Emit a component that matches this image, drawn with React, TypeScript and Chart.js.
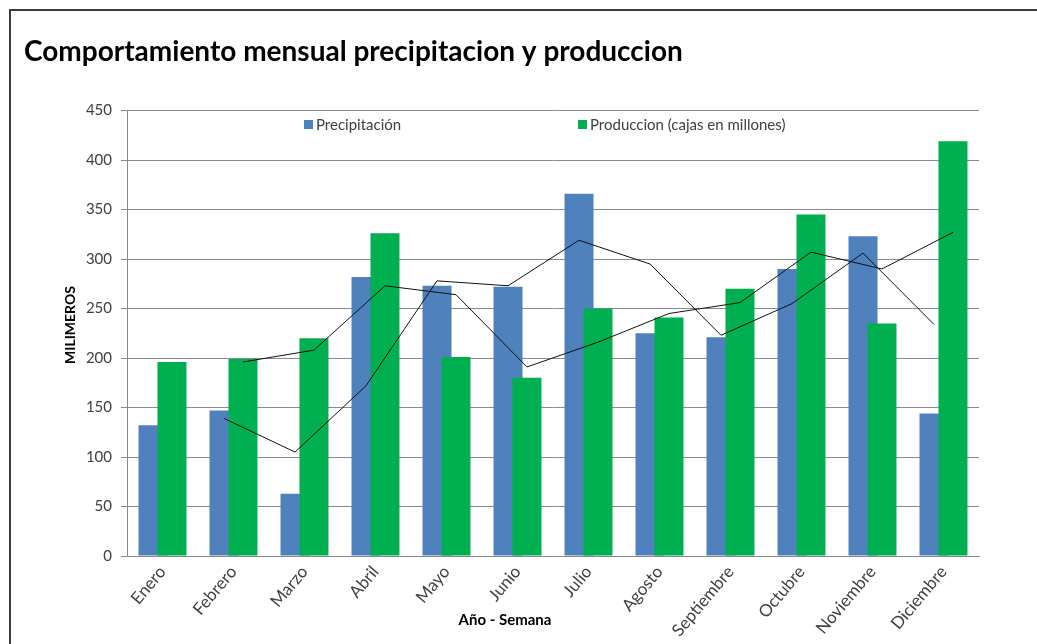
import React, { useEffect, useRef } from 'react';
import { Chart, registerables } from 'chart.js';

Chart.register(...registerables);

const MONTHS = ['Enero', 'Febrero', 'Marzo', 'Abril', 'Mayo', 'Junio', 'Julio', 'Agosto', 'Septiembre', 'Octubre', 'Noviembre', 'Diciembre'];
const PRECIPITACION = [132, 147, 63, 282, 273, 272, 366, 225, 221, 290, 323, 144];
const PRODUCCION = [196, 199, 220, 326, 201, 180, 250, 241, 270, 345, 235, 419];
const TENDENCIA_PRECIPITACION = [null, 139, 105, 172, 278, 273, 319, 295, 223, 255, 306, 234];
const TENDENCIA_PRODUCCION = [null, 196, 208, 273, 264, 191, 216, 245, 256, 307, 290, 327];
const Y_MIN = 0;
const Y_MAX = 450;
const Y_STEP = 50;

const TITLE = 'Comportamiento mensual precipitacion y produccion';
const Y_TITLE = 'MILIMEROS';
const X_TITLE = 'Año - Semana';
const LABEL_PRECIP = 'Precipitación';
const LABEL_PROD = 'Produccion (cajas en millones)';

const BLUE = '#4F81BD';
const GREEN = '#00B050';
const GRID = '#8a8a8a';
const TEXT = '#404040';
const FONT = 'Lato, "Open Sans", sans-serif';

// Each series sits a little left/right of its month; bars overlap (green in front).
const SLOT_SHIFT = 0.1335;
const BAR_PERCENTAGE = 1.53;

const toPoints = (values: (number | null)[], shift: number) =>
  values.map((v, i) => ({ x: i + shift, y: v }));

const overlays = {
  id: 'overlays',
  afterDraw(chart: any) {
    const ctx = chart.ctx;
    const spots = [
      { index: 0, x: 304 },
      { index: 1, x: 578 },
    ];
    ctx.save();
    ctx.font = `15px ${FONT}`;
    ctx.textBaseline = 'middle';
    ctx.textAlign = 'left';
    for (const s of spots) {
      const ds = chart.data.datasets[s.index];
      ctx.fillStyle = ds.backgroundColor;
      ctx.fillRect(s.x, 120, 9, 9);
      ctx.fillStyle = TEXT;
      ctx.fillText(ds.label, s.x + 12, 125);
    }
    // axis titles
    ctx.font = `bold 15px ${FONT}`;
    ctx.fillStyle = '#000';
    ctx.textAlign = 'center';
    ctx.fillText(X_TITLE, 505, 620);
    ctx.save();
    ctx.translate(70, 325);
    ctx.rotate(-Math.PI / 2);
    ctx.font = `bold 14px ${FONT}`;
    ctx.fillText(Y_TITLE, 0, 0);
    ctx.restore();
    ctx.restore();
  },
};

export default function App() {
  const ref = useRef<HTMLCanvasElement | null>(null);

  useEffect(() => {
    if (!ref.current) return;
    const chart = new Chart(ref.current, {
      type: 'bar',
      data: {
        datasets: [
          {
            type: 'bar',
            label: LABEL_PRECIP,
            data: toPoints(PRECIPITACION, -SLOT_SHIFT),
            backgroundColor: BLUE,
            grouped: false,
            categoryPercentage: 1,
            barPercentage: BAR_PERCENTAGE,
            order: 2,
          },
          {
            type: 'bar',
            label: LABEL_PROD,
            data: toPoints(PRODUCCION, SLOT_SHIFT),
            backgroundColor: GREEN,
            grouped: false,
            categoryPercentage: 1,
            barPercentage: BAR_PERCENTAGE,
            order: 1,
          },
          {
            type: 'line',
            label: 'Media móvil precipitación',
            data: toPoints(TENDENCIA_PRECIPITACION, -SLOT_SHIFT),
            borderColor: '#111',
            borderWidth: 1,
            pointRadius: 0,
            tension: 0,
            fill: false,
            order: 0,
          },
          {
            type: 'line',
            label: 'Media móvil producción',
            data: toPoints(TENDENCIA_PRODUCCION, SLOT_SHIFT),
            borderColor: '#111',
            borderWidth: 1,
            pointRadius: 0,
            tension: 0,
            fill: false,
            order: 0,
          },
        ] as any,
      },
      options: {
        responsive: false,
        animation: false,
        layout: { padding: { left: 24, right: 58, top: 0, bottom: 0 } },
        plugins: {
          legend: { display: false },
          tooltip: { enabled: false },
          title: {
            display: true,
            text: TITLE,
            align: 'start',
            color: '#000',
            font: { family: FONT, size: 28, weight: 'bold' },
            padding: { top: 35, bottom: 42 },
          },
        },
        scales: {
          x: {
            type: 'linear',
            min: -0.5,
            max: 11.5,
            offset: false,
            grid: { display: false, drawTicks: false },
            border: { display: true, color: GRID },
            afterBuildTicks: (scale: any) => {
              scale.ticks = MONTHS.map((_, i) => ({ value: i }));
            },
            ticks: {
              autoSkip: false,
              minRotation: 50,
              maxRotation: 50,
              padding: 6,
              color: TEXT,
              font: { family: FONT, size: 17 },
              callback: (v: number) => MONTHS[v] ?? '',
            },
            afterFit: (scale: any) => {
              scale.height = 88;
            },
          },
          y: {
            min: Y_MIN,
            max: Y_MAX,
            ticks: {
              stepSize: Y_STEP,
              padding: 9,
              color: TEXT,
              font: { family: FONT, size: 15 },
            },
            grid: { color: GRID, tickLength: 6, lineWidth: 1 },
            border: { display: true, color: GRID },
            title: { display: false },
            afterFit: (scale: any) => {
              scale.width = 103;
            },
          },
        },
      } as any,
      plugins: [overlays],
    });
    return () => chart.destroy();
  }, []);

  return (
    <div style={{ position: 'fixed', inset: 0, background: '#fff', overflow: 'hidden' }}>
      <div
        style={{
          position: 'absolute',
          left: 9,
          top: 9,
          width: 1200,
          height: 800,
          border: '2px solid #3c3c3c',
          boxSizing: 'border-box',
        }}
      />
      <canvas ref={ref} width={1037} height={644} style={{ position: 'absolute', left: 0, top: 0 }} />
    </div>
  );
}
